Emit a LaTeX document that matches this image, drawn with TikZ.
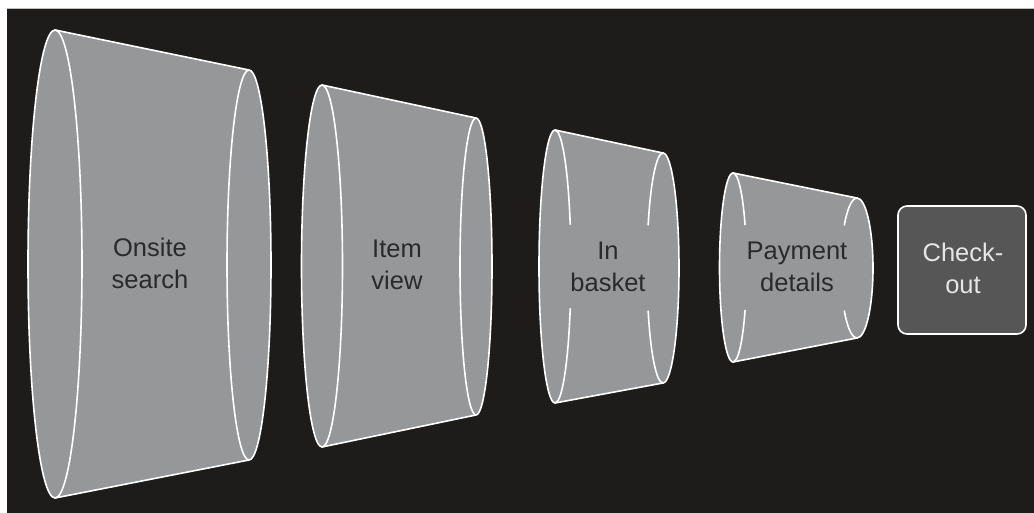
\documentclass[tikz,border=0pt]{standalone}
\usepackage{fontspec}
\setmainfont{Liberation Sans}
\definecolor{bg}{RGB}{30,27,27}
\definecolor{funnelgray}{RGB}{149,151,153}
\definecolor{txt}{RGB}{42,42,42}
\definecolor{boxfill}{RGB}{86,86,86}
\definecolor{boxtxt}{RGB}{230,230,230}
\tikzset{
  outline/.style={draw=white, line width=1.6pt, line join=round, line cap=round},
  bodyfill/.style={fill=funnelgray},
  stagetext/.style={text=txt, font=\fontsize{25.5}{32}\selectfont, align=center, inner sep=0pt},
  checkbox/.style={draw=white, line width=1.6pt, fill=boxfill, rounded corners=9pt}
}
\begin{document}
\begin{tikzpicture}[x=1pt,y=1pt]
\useasboundingbox (0,0) rectangle (1034,-513);
\fill[white] (0,0) rectangle (1034,-513);
\fill[black!25] (7,-8) rectangle (1034,-10);
\fill[bg] (7,-9.5) rectangle (1034,-513);

% Funnel 1: Onsite search
\path[bodyfill] (55,-30) arc[start angle=90,end angle=270,x radius=27,y radius=234]
  -- (249,-460) arc[start angle=-90,end angle=90,x radius=22,y radius=195] -- cycle;
\draw[outline] (55,-264) ellipse[x radius=27,y radius=234];
\draw[outline] (249,-265) ellipse[x radius=22,y radius=195];
\draw[outline] (55,-30) -- (249,-70);
\draw[outline] (55,-498) -- (249,-460);
\node[stagetext] (onsite) at (150,-263) {Onsite\\search};

% Funnel 2: Item view
\path[bodyfill] (322,-85) arc[start angle=90,end angle=270,x radius=20.5,y radius=181]
  -- (476,-415) arc[start angle=-90,end angle=90,x radius=16,y radius=148.5] -- cycle;
\draw[outline] (322,-266) ellipse[x radius=20.5,y radius=181];
\draw[outline] (476,-266.5) ellipse[x radius=16,y radius=148.5];
\draw[outline] (322,-85) -- (476,-118);
\draw[outline] (322,-447) -- (476,-415);
\node[stagetext] (itemview) at (397,-265) {Item\\view};

% Funnel 3: In basket
\draw[outline, bodyfill] (555,-130) arc[start angle=90,end angle=270,x radius=16,y radius=136.5]
  -- (663,-383) arc[start angle=-90,end angle=90,x radius=16,y radius=115] -- cycle;
\draw[outline] (555,-130) arc[start angle=90,end angle=18,x radius=16,y radius=136.5];
\draw[outline] (555,-403) arc[start angle=-90,end angle=-18,x radius=16,y radius=136.5];
\draw[outline] (663,-153) arc[start angle=90,end angle=158,x radius=16,y radius=115];
\draw[outline] (663,-383) arc[start angle=270,end angle=202,x radius=16,y radius=115];
\node[stagetext] (inbasket) at (608,-267) {In\\basket};

% Funnel 4: Payment details
\draw[outline, bodyfill] (733,-173) arc[start angle=90,end angle=270,x radius=13.5,y radius=94.5]
  -- (857,-338) arc[start angle=-90,end angle=90,x radius=16,y radius=70] -- cycle;
\draw[outline] (733,-173) arc[start angle=90,end angle=27,x radius=13.5,y radius=94.5];
\draw[outline] (733,-362) arc[start angle=-90,end angle=-27,x radius=13.5,y radius=94.5];
\draw[outline] (857,-198) arc[start angle=90,end angle=142,x radius=16,y radius=70];
\draw[outline] (857,-338) arc[start angle=270,end angle=218,x radius=16,y radius=70];
\node[stagetext] (payment) at (797,-267) {Payment\\details};

% Check-out box
\draw[checkbox] (898,-206) rectangle (1026,-334);
\node[stagetext, text=boxtxt] (checkout) at (963,-268) {Check-\\out};
\end{tikzpicture}
\end{document}
